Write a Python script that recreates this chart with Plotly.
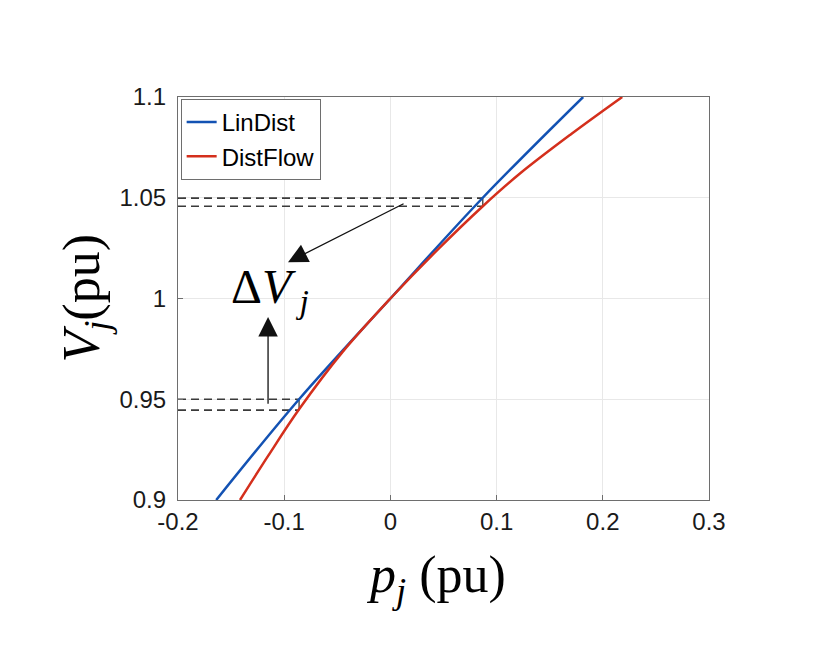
import plotly.graph_objects as go

# ---------------------------------------------------------------------------
# Data
# ---------------------------------------------------------------------------
LINDIST_P = [-0.164, -0.086, 0.0, 0.087, 0.1815]
LINDIST_V = [0.9, 0.95, 1.0, 1.05, 1.1]

DISTFLOW_P = [-0.1416, -0.115, -0.086, -0.045, 0.0, 0.045, 0.087, 0.122, 0.17, 0.2183]
DISTFLOW_V = [0.9, 0.922, 0.945, 0.9735, 1.0, 1.0245, 1.0458, 1.062, 1.0815, 1.1]

# dashed guide levels and where they stop
UPPER_LEVELS = [1.0498, 1.0458]
UPPER_END_P = 0.087
LOWER_LEVELS = [0.950, 0.9446]
LOWER_END_P = -0.086

X_TICKS = [-0.2, -0.1, 0, 0.1, 0.2, 0.3]
X_TICK_TEXT = ["-0.2", "-0.1", "0", "0.1", "0.2", "0.3"]
Y_TICKS = [0.9, 0.95, 1.0, 1.05, 1.1]
Y_TICK_TEXT = ["0.9", "0.95", "1", "1.05", "1.1"]

COLOR_LIN = "#1352b3"
COLOR_DIST = "#d42f1c"
COLOR_GUIDE = "#3a3a3a"
SERIF = "Liberation Serif, DejaVu Serif, serif"
SANS = "Liberation Sans, Arial, sans-serif"

fig = go.Figure()

# dashed horizontal guides plus the short closing segment at their ends
for levels, end_p in ((UPPER_LEVELS, UPPER_END_P), (LOWER_LEVELS, LOWER_END_P)):
    for lvl in levels:
        fig.add_trace(
            go.Scatter(
                x=[-0.2, end_p], y=[lvl, lvl], mode="lines",
                line=dict(color=COLOR_GUIDE, width=1.6, dash="8px,5px"),
                showlegend=False, hoverinfo="skip",
            )
        )
    fig.add_trace(
        go.Scatter(
            x=[end_p, end_p], y=levels, mode="lines",
            line=dict(color=COLOR_GUIDE, width=1.3),
            showlegend=False, hoverinfo="skip",
        )
    )

fig.add_trace(
    go.Scatter(
        x=LINDIST_P, y=LINDIST_V, mode="lines", name="LinDist",
        line=dict(color=COLOR_LIN, width=2.5, shape="spline", smoothing=1),
    )
)
fig.add_trace(
    go.Scatter(
        x=DISTFLOW_P, y=DISTFLOW_V, mode="lines", name="DistFlow",
        line=dict(color=COLOR_DIST, width=2.5, shape="spline", smoothing=1),
    )
)

axis_common = dict(
    showgrid=True, gridcolor="#e8e8e8", gridwidth=1,
    showline=True, linecolor="#6e6e6e", linewidth=1.2, mirror=True,
    ticks="inside", ticklen=5, tickcolor="#6e6e6e",
    zeroline=False,
    tickfont=dict(family=SANS, size=24, color="#1a1a1a"),
)

fig.update_xaxes(
    range=[-0.2, 0.3], tickvals=X_TICKS, ticktext=X_TICK_TEXT, **axis_common
)
fig.update_yaxes(
    range=[0.9, 1.1], tickvals=Y_TICKS, ticktext=Y_TICK_TEXT,
    ticklabelstandoff=6, **axis_common
)

annotations = [
    # arrow pointing towards the ΔV label
    dict(
        x=-0.0964, y=1.018, ax=0.0138, ay=1.0474, xref="x", yref="y",
        axref="x", ayref="y", text="", showarrow=True,
        arrowhead=2, arrowsize=3.0, arrowwidth=1.3, arrowcolor="#111111",
    ),
    # vertical arrow from the lower guides
    dict(
        x=-0.1152, y=0.9908, ax=-0.1152, ay=0.947, xref="x", yref="y",
        axref="x", ayref="y", text="", showarrow=True,
        arrowhead=2, arrowsize=3.0, arrowwidth=1.3, arrowcolor="#111111",
    ),
    dict(
        x=-0.113, y=1.004, xref="x", yref="y", showarrow=False,
        text="Δ<i>V</i><sub><i> j</i></sub>",
        font=dict(family=SERIF, size=48, color="#000000"),
        xanchor="center", yanchor="middle",
    ),
    # axis titles
    dict(
        x=0.485, y=-0.194, xref="paper", yref="paper", showarrow=False,
        text="<i>p</i><sub><i>j</i></sub> (pu)",
        font=dict(family=SERIF, size=52, color="#000000"),
        xanchor="center", yanchor="middle",
    ),
    dict(
        x=-0.175, y=0.5, xref="paper", yref="paper", showarrow=False,
        text="<i>V</i><sub><i>j</i></sub>(pu)", textangle=-90,
        font=dict(family=SERIF, size=52, color="#000000"),
        xanchor="center", yanchor="middle",
    ),
]

fig.update_layout(
    width=834, height=654,
    paper_bgcolor="white", plot_bgcolor="white",
    margin=dict(l=170, r=133, t=89, b=162),
    showlegend=True,
    legend=dict(
        x=0.005, y=0.995, xanchor="left", yanchor="top",
        bgcolor="white", bordercolor="#6e6e6e", borderwidth=1,
        font=dict(family=SANS, size=24, color="#000000"),
        tracegroupgap=0, itemwidth=30,
    ),
    annotations=annotations,
)

fig.write_html("out.html")
